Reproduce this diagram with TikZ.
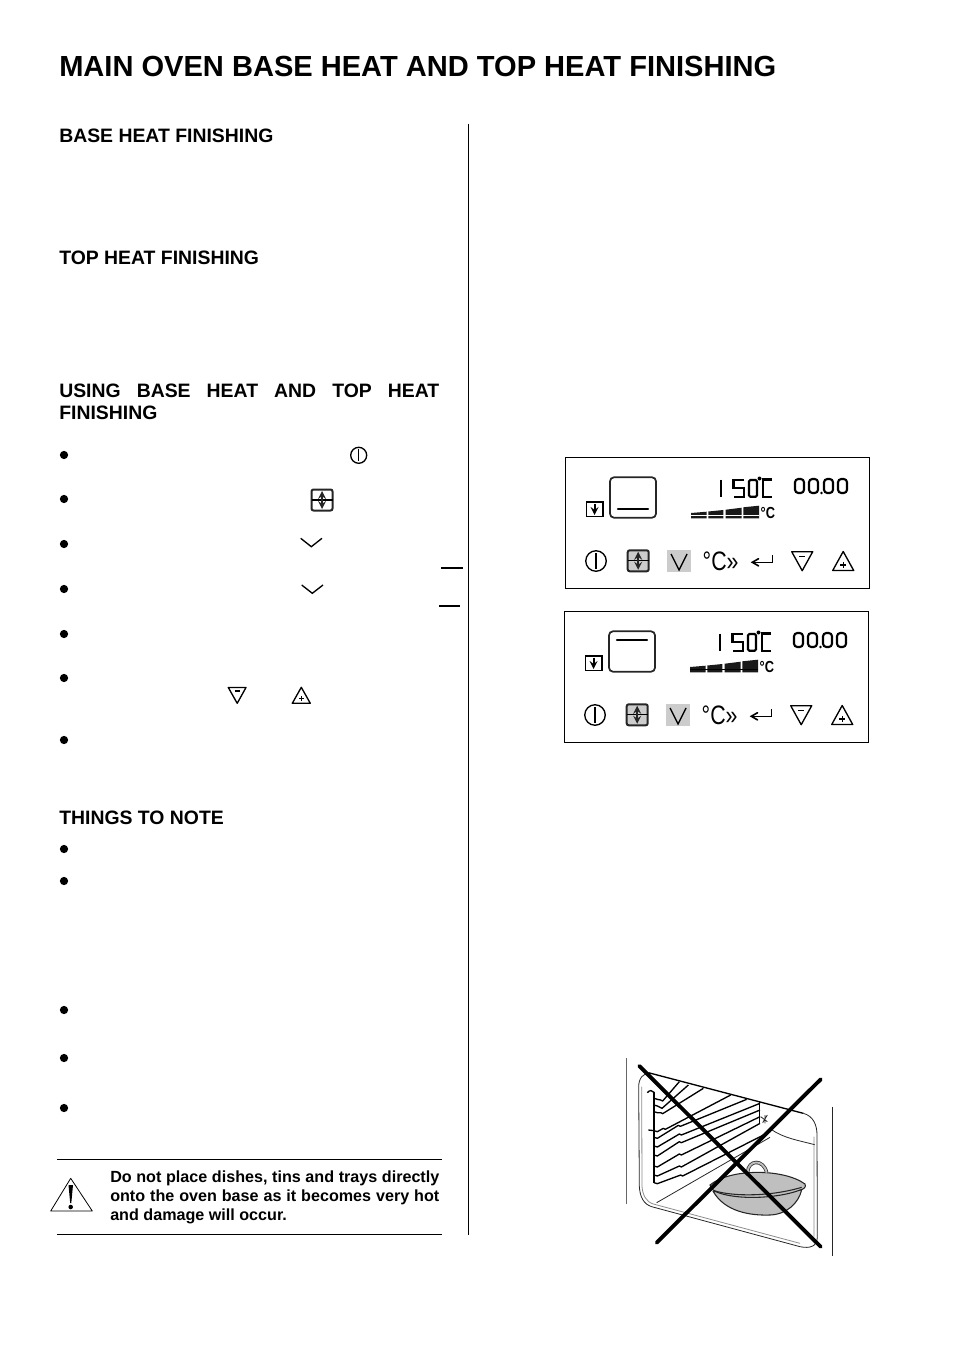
\documentclass[tikz,border=0pt]{standalone}
\usepackage{fontspec}
\setmainfont{Liberation Sans}
\usetikzlibrary{arrows,positioning}
\definecolor{keygrey}{gray}{0.8}
\definecolor{pangrey}{gray}{0.75}
\newcommand{\headfont}{\fontsize{14.55}{16.5}\selectfont\bfseries}
\newcommand{\warnfont}{\fontsize{12.1}{14}\selectfont\bfseries}
\tikzset{
	heading/.style = {anchor=base west, inner sep=0pt, font=\headfont},
	bulletdot/.style = {circle, fill=black, inner sep=0pt, minimum size=6.2pt},
	iconline/.style = {line width=1pt, black},
	iconbold/.style = {line width=1.5pt, black!85},
	segline/.style = {line width=1.6pt, black},
	ruleline/.style = {line width=0.8pt, black},
	ovenline/.style = {line width=0.6pt, black!85},
	ovengrey/.style = {line width=0.6pt, black!45},
	rackline/.style = {line width=1pt, black},
	crossline/.style = {line width=2.9pt, black, line cap=round}
}
\newcommand{\keypower}[3]{\draw[iconline] (#1,#2) circle (#3pt); \draw[iconline] (#1,#2-#3) -- (#1,#2+#3);}
\newcommand{\keydown}[2]{%
	\draw[iconline, line join=round] (#1-10.5,#2-9.5) -- (#1+10.5,#2-9.5) -- (#1,#2+9.5) -- cycle;
	\draw[iconline] (#1-3,#2-5) -- (#1+3,#2-5);}
\newcommand{\keyup}[2]{%
	\draw[iconline, line join=round] (#1-10.5,#2+9.5) -- (#1+10.5,#2+9.5) -- (#1,#2-9.5) -- cycle;
	\draw[iconline] (#1-3,#2+4) -- (#1+3,#2+4) (#1,#2+1) -- (#1,#2+7);}
\newcommand{\keymode}[3]{%
	\draw[iconbold, fill=#3, rounded corners=1.5pt] (#1-10.5,#2-10.5) rectangle (#1+10.5,#2+10.5);
	\draw[iconline] (#1-10.5,#2) -- (#1+10.5,#2);
	\draw[line width=1.6pt, black!85, stealth-stealth] (#1,#2-9) -- (#1,#2+9);}
\begin{document}
\begin{tikzpicture}[x=0.75pt,y=-0.75pt]
	\path[use as bounding box] (0,0) rectangle (954,1351);
	%\draw[help lines] (0,0) grid (954,1351);

	% left column
	\node[heading, font=\fontsize{21.8}{24}\selectfont\bfseries] (title) at (59,77) {MAIN OVEN BASE HEAT AND TOP HEAT FINISHING};
	\node[heading] (basehead) at (59,143) {BASE HEAT FINISHING};
	\node[heading] (tophead) at (59,265) {TOP HEAT FINISHING};
	\node[heading, anchor=north west, text width=285pt, align=justify] (usinghead) at (59,383.5) {USING BASE HEAT AND TOP HEAT\linebreak FINISHING};
	\node[heading] (notehead) at (59,824.5) {THINGS TO NOTE};
	\foreach \by in {455,499,544,589,634,678,740,849,881,1010,1058,1108}
		\node[bulletdot] (dot\by) at (64,\by) {};
	\draw[ruleline] (468.5,124) -- (468.5,1235);

	% keys in the text
	\keypower{358.7}{455.3}{6}
	\keymode{322}{500}{white}
	\draw[iconline] (300.7,538.3) -- (311.3,546.7) -- (322,538.3);
	\draw[iconline] (301.7,585) -- (312.3,593.3) -- (323,585);
	\draw[line width=1.5pt] (441.3,567.7) -- (462.7,567.7);
	\draw[line width=1.5pt] (439,605.7) -- (460.3,605.7);
	\draw[iconline, line join=round] (228.3,687.5) -- (246,687.5) -- (237.2,703.3) -- cycle;
	\draw[iconline] (234.7,691) -- (239.7,691);
	\draw[iconline, line join=round] (292.3,703.3) -- (310.3,703.3) -- (301.3,687.3) -- cycle;
	\draw[iconline] (298.8,698.5) -- (303.8,698.5) (301.3,696) -- (301.3,701);

	% warning
	\draw[ruleline] (57,1159.5) -- (442,1159.5);
	\draw[ruleline] (57,1234.5) -- (442,1234.5);
	\draw[line width=0.6pt, line join=round] (70.7,1178.3) -- (92.3,1211) -- (50.7,1211) -- cycle;
	\fill (68.5,1185) -- (73,1185) -- (71.3,1203) -- (70.2,1203) -- cycle;
	\fill (70.7,1207) circle (1.7pt);
	\node[anchor=north west, inner sep=0pt, text width=246.8pt, align=justify, font=\warnfont] (warntext) at (110,1171) {Do not place dishes, tins and trays directly\linebreak onto the oven base as it becomes very hot\linebreak and damage will occur.};

	% display panels
	\foreach \pname/\dx/\dy/\ovy/\barcol in {a/0/0/509/white,b/-1/154/485.7/black} {
	\begin{scope}[shift={(\dx,\dy)}]
		\draw[ruleline] (565.7,457.3) rectangle (869.3,588.3);
		\draw[iconline] (586.3,502) rectangle (603,516.3);
		\draw[line width=1.6pt, black, -stealth] (594.6,503.5) -- (594.6,515);
		\draw[line width=1.3pt, black!85, rounded corners=3pt] (610,477.3) rectangle (656,517.7);
		\draw[line width=1.7pt, line cap=round] (618,\ovy) -- (648,\ovy);
		% 150
		\draw[line width=2pt] (721,479.5) -- (721,497);
		\draw[segline] (744,480) -- (733.5,480) -- (733.5,488.3) -- (744,488.3) -- (744,496.7) -- (733.5,496.7);
		\draw[segline, rounded corners=1pt] (749,480) rectangle (757,496.7);
		\fill (759.5,478.5) circle (1.5pt);
		\draw[segline] (772,479.5) -- (763.2,479.5) -- (763.2,497) -- (772,497);
		% 00.00
		\foreach \tx in {795,809,824,838}
			\draw[segline, rounded corners=2.5pt] (\tx,479) rectangle +(9,14);
		\fill (821.5,493) circle (1.1pt);
		% level bars
		\fill[black!90] (691,518.3) -- (691,513) -- (706.7,511.7) -- (706.7,518.3) -- cycle;
		\fill[black!90] (708.3,518.3) -- (708.3,511.5) -- (723.3,510) -- (723.3,518.3) -- cycle;
		\fill[black!90] (725.7,518.3) -- (725.7,509.7) -- (741.7,507.7) -- (741.7,518.3) -- cycle;
		\fill[black!90] (743.3,518.3) -- (743.3,507.3) -- (759,505.7) -- (759,518.3) -- cycle;
		\draw[\barcol, line width=0.4pt] (691,515.7) -- (759,515.7);
		\node[anchor=base west, inner sep=0pt, xscale=0.8, font=\fontsize{12}{12}\selectfont\bfseries] (degsmall\pname) at (760.5,518.5) {°C};
		% keys
		\keypower{596}{561}{7.7}
		\keymode{638.2}{560.8}{keygrey}
		\fill[keygrey] (667,550) rectangle (691,571.7);
		\draw[iconline] (671,554) -- (679,570) -- (687,554);
		\node[anchor=base west, inner sep=0pt, xscale=0.8, font=\fontsize{20}{20}\selectfont] (degkey\pname) at (702.5,570.5) {°C»};
		\draw[line width=1.2pt, black, -angle 60] (772.3,555) -- (772.3,562.3) -- (750.7,562.3);
		\keydown{802.2}{561.2}
		\keyup{843.2}{561}
	\end{scope}
	}

	% oven, numbers of the crop
	\begin{scope}[shift={(610,1050)}, x=0.25pt, y=-0.25pt]
		\draw[line width=0.9pt, black!60] (50,25) -- (50,462);
		\draw[line width=0.9pt, black!85] (667,170) -- (667,618);
		\draw[ovenline] (580,190) .. controls (610,198) and (621,225) .. (621,255) -- (622,560) .. controls (622,590) and (600,596) .. (570,590) -- (125,470) .. controls (100,462) and (90,440) .. (88,410) -- (86,110) .. controls (86,85) and (100,68) .. (120,70);
		\draw[ovengrey] (612,260) -- (612,560) (570,580) -- (130,462) .. controls (108,455) and (98,435) .. (96,410) -- (95,110);
		\draw[rackline] (115,68) -- (580,190);
		\draw[ovenline] (482,237) .. controls (520,265) and (570,272) .. (614,284);
		\draw[ovenline] (140,458) -- (480,262);
		% rack
		\begin{scope}[shift={(90,30)}]
			\draw[rackline] (42,95) -- (42,370);
			\draw[rackline] (358,125) -- (358,192);
			\draw[rackline] (22,98) .. controls (28,90) and (38,90) .. (42,97);
			\draw[rackline] (25,210) -- (42,212);
			\foreach \ya/\xb/\yb/\xc/\yc in {115/62/120/118/65,135/60/142/145/75,155/62/158/190/85,212/70/205/272/105,232/115/196/320/118,258/118/222/360/130,285/118/245/360/150,318/118/282/360/170,345/118/318/360/190,368/122/345/390/215}
				\draw[rackline, line join=round] (42,\ya) -- (52,\ya+3) -- (\xb,\yb) -- (\xb+6,\yb+3) -- (\xc,\yc);
			\draw[ovenline] (362,170) -- (382,185) (368,188) -- (382,165) (375,165) -- (375,190);
		\end{scope}
		% pan
		\draw[ovenline, line width=0.8pt, fill=pangrey] (310,425) .. controls (345,485) and (420,497) .. (480,495) .. controls (530,493) and (565,460) .. (575,420) -- cycle;
		\draw[ovenline, line width=0.8pt, fill=pangrey] (300,405) .. controls (360,355) and (520,355) .. (585,402) .. controls (590,412) and (580,418) .. (570,420) .. controls (520,440) and (420,450) .. (350,435) .. controls (325,430) and (300,420) .. (300,405) -- cycle;
		\draw[ovenline, line width=0.8pt] (312,422) .. controls (370,440) and (480,440) .. (575,412);
		\draw[black!80, line width=0.6pt, double=pangrey, double distance=1.4pt] (413,366) .. controls (414,330) and (460,325) .. (470,368);
		% cross
		\draw[crossline] (88,48) -- (632,590);
		\draw[crossline] (140,578) -- (632,88);
	\end{scope}
\end{tikzpicture}
\end{document}
